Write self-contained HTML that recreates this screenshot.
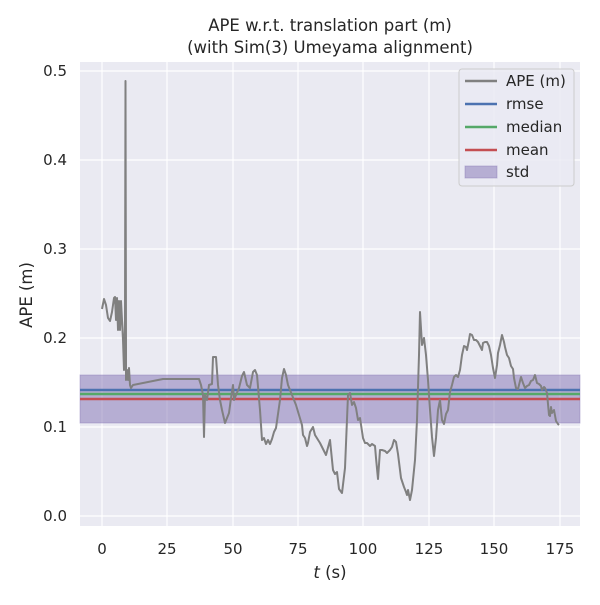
<!DOCTYPE html>
<html><head><style>body{margin:0;background:#fff}</style></head><body>
<svg width="600" height="600" xmlns="http://www.w3.org/2000/svg" font-family="'DejaVu Sans', 'Liberation Sans', sans-serif">
<rect width="600" height="600" fill="#fff"/>
<rect x="80" y="62" width="500" height="464" fill="#eaeaf2"/>
<g stroke="#fff" stroke-width="1.2">
<line x1="102" y1="62" x2="102" y2="526"/><line x1="167" y1="62" x2="167" y2="526"/><line x1="233" y1="62" x2="233" y2="526"/><line x1="298" y1="62" x2="298" y2="526"/><line x1="363" y1="62" x2="363" y2="526"/><line x1="429" y1="62" x2="429" y2="526"/><line x1="494" y1="62" x2="494" y2="526"/><line x1="560" y1="62" x2="560" y2="526"/>
<line x1="80" y1="71" x2="580" y2="71"/><line x1="80" y1="160" x2="580" y2="160"/><line x1="80" y1="249" x2="580" y2="249"/><line x1="80" y1="338" x2="580" y2="338"/><line x1="80" y1="427" x2="580" y2="427"/><line x1="80" y1="516" x2="580" y2="516"/>
</g>
<rect x="80" y="375" width="500" height="48" fill="#8172b3" fill-opacity="0.5" stroke="#8172b3" stroke-opacity="0.4"/>
<line x1="80" y1="390" x2="580" y2="390" stroke="#4c72b0" stroke-width="2.4"/>
<line x1="80" y1="394" x2="580" y2="394" stroke="#55a868" stroke-width="2.4"/>
<line x1="80" y1="399" x2="580" y2="399" stroke="#c44e52" stroke-width="2.4"/>
<polyline fill="none" stroke="#808080" stroke-width="2" stroke-linejoin="round" points="102,309 104,299 106,305 108,318 110,321 112,312 114,298 115,297 116,320 117,298 118,330 119,301 120,330 121,301 122,320 123,340 124,370 125,320 125.5,81 126,350 126,380 127,370 128,380 129,368 130,385 131,388 133,385 163,379 199,379 201,385 203,395 204,437 205,395 207,400 209,385 212,384 213,357 216,357 218,385 220,400 222,410 225,423 227,418 229,413 231,398 233,385 234,400 236,395 239,388 242,376 244,372 247,385 250,388 253,372 255,370 257,375 260,410 262,440 264,438 266,444 268,440 270,444 272,439 274,432 276,428 280,400 282,378 284,369 286,375 288,385 290,390 292,395 294,400 296,405 302,425 303,435 305,438 307,446 308,443 310,432 313,427 315,435 320,443 326,455 330,440 333,470 335,474 337,472 339,489 342,493 345,468 348,395 350,393 352,405 354,402 356,408 358,420 360,418 363,438 365,443 367,443 370,446 372,444 375,446 376,458 378,479 380,450 382,450 385,451 387,453 390,450 392,447 394,440 396,442 398,454 401,478 404,487 406,492 407,495 408,490 410,500 412,490 415,460 417,420 419,355 420,312 422,345 424,338 426,355 428,380 430,410 432,437 434,456 436,438 438,410 440,400 442,420 444,424 446,414 448,410 450,392 452,385 454,377 456,375 458,377 460,370 462,355 464,346 466,347 467,350 469,340 470,334 472,335 474,340 476,340 478,342 480,346 482,350 483,343 485,342 487,342 489,346 491,355 493,368 495,378 497,365 498,353 500,345 502,335 504,342 505,347 507,355 509,358 511,366 513,369 514,378 516,388 518,389 519,385 521,377 523,383 525,388 527,386 529,385 531,381 533,380 535,375 537,383 539,384 541,386 542,390 544,387 545,388 547,393 549,415 550,416 551,407 552,413 554,410 556,421 558,424 559,425"/>
<g font-size="15" fill="#262626">
<text x="330" y="31" text-anchor="middle" font-size="16.5">APE w.r.t. translation part (m)</text>
<text x="330" y="53" text-anchor="middle" font-size="16.5">(with Sim(3) Umeyama alignment)</text>
<g text-anchor="end"><text x="67" y="76">0.5</text><text x="67" y="165">0.4</text><text x="67" y="254">0.3</text><text x="67" y="343">0.2</text><text x="67" y="432">0.1</text><text x="67" y="521">0.0</text></g>
<g text-anchor="middle"><text x="102" y="554">0</text><text x="167" y="554">25</text><text x="233" y="554">50</text><text x="298" y="554">75</text><text x="363" y="554">100</text><text x="429" y="554">125</text><text x="494" y="554">150</text><text x="560" y="554">175</text></g>
<text x="330" y="578" text-anchor="middle" font-size="16.5"><tspan font-style="italic">t</tspan> (s)</text>
<text transform="translate(32,295) rotate(-90)" text-anchor="middle" font-size="16.5">APE (m)</text>
</g>
<rect x="459" y="69" width="115" height="117" rx="3" fill="#eaeaf2" fill-opacity="0.8" stroke="#ccc"/>
<g stroke-width="2.4"><line x1="465" y1="81" x2="497" y2="81" stroke="#808080"/><line x1="465" y1="104" x2="497" y2="104" stroke="#4c72b0"/><line x1="465" y1="127" x2="497" y2="127" stroke="#55a868"/><line x1="465" y1="150" x2="497" y2="150" stroke="#c44e52"/></g>
<rect x="465" y="166" width="32" height="12" fill="#8172b3" fill-opacity="0.5" stroke="#8172b3" stroke-opacity="0.4"/>
<g font-size="15" fill="#262626"><text x="506" y="86">APE (m)</text><text x="506" y="109">rmse</text><text x="506" y="132">median</text><text x="506" y="155">mean</text><text x="506" y="177">std</text></g>
</svg>
</body></html>
